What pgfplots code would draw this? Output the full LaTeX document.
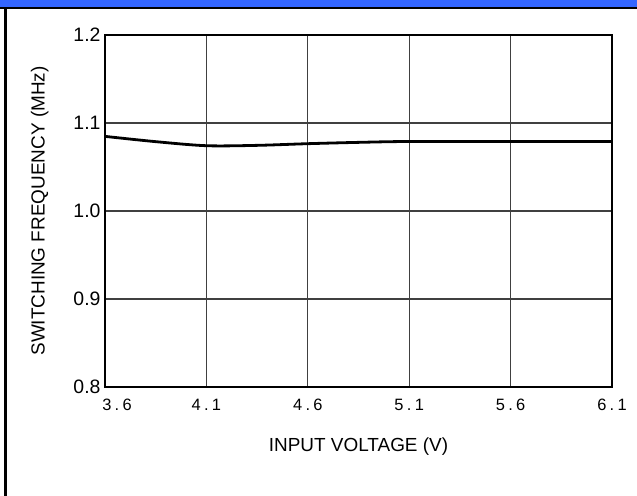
\documentclass[border=0pt]{standalone}
\usepackage{pgfplots}
\pgfplotsset{compat=1.18}
\usepackage{fontspec}
\setmainfont{Liberation Sans}
\newfontfamily\tickfont[LetterSpace=20]{Liberation Sans}
\definecolor{topblue}{HTML}{3366FF}
\definecolor{gridgray}{HTML}{404040}
\begin{document}
\begin{tikzpicture}[x=1bp,y=1bp]
\path[use as bounding box] (0,0) rectangle (637,-496);
\fill[topblue] (0,0) rectangle (637,-7.5);
\fill[black] (0,-7) rectangle (637,-9.5);
\fill[black] (3.5,-7) rectangle (6.5,-496);
\begin{axis}[
  at={(105bp,-387bp)}, anchor=south west,
  width=507bp, height=352bp, scale only axis,
  xmin=3.6, xmax=6.1, ymin=0.8, ymax=1.2,
  xtick={3.6,4.1,4.6,5.1,5.6,6.1},
  xticklabels={\hspace{24bp}3.6,4.1,4.6,5.1,5.6,6.1},
  ytick={0.8,0.9,1.0,1.1,1.2},
  yticklabels={0.8,0.9,1.0,1.1,1.2},
  tick style={draw=none},
  grid=major,
  major grid style={draw=gridgray, line width=1.3bp},
  axis line style={black, line width=1.6bp},
  xticklabel style={font=\fontsize{16.5}{18}\tickfont, yshift=-8bp, text height=12bp, text depth=2bp},
  yticklabel style={font=\fontsize{19.5}{21}\selectfont, xshift=-1bp},
  xlabel={INPUT VOLTAGE (V)},
  ylabel={SWITCHING FREQUENCY (MHz)},
  label style={font=\fontsize{19}{22}\selectfont},
  xlabel style={yshift=-18bp},
  ylabel style={yshift=18bp},
]
\addplot[black, line width=2.8bp, smooth] coordinates {
  (3.6,1.0848) (3.85,1.0788) (4.1,1.0742) (4.35,1.0746) (4.6,1.0765)
  (4.85,1.0780) (5.1,1.0790) (5.6,1.0790) (6.1,1.0790)
};
\end{axis}
\end{tikzpicture}
\end{document}
